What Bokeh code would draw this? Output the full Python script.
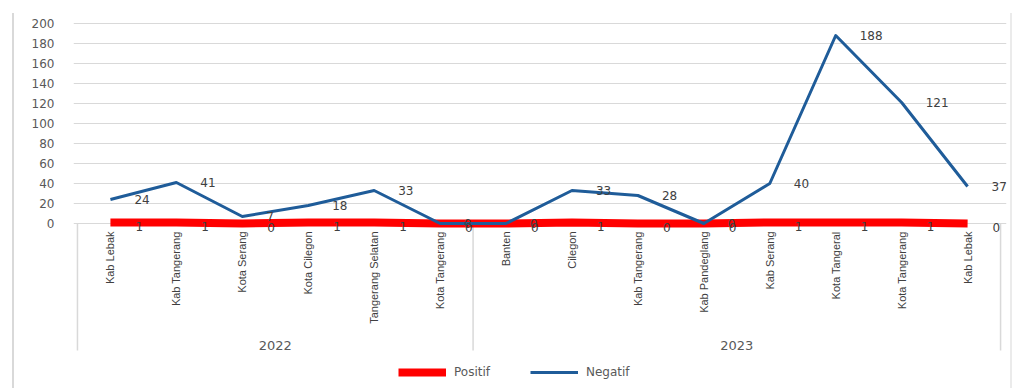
import math

from bokeh.core.properties import value
from bokeh.embed import file_html
from bokeh.models import ColumnDataSource, FixedTicker, Legend, LegendItem, Range1d
from bokeh.plotting import figure
from bokeh.resources import INLINE

# Districts tested per year (Banten province)
years = ["2022", "2023"]
districts_2022 = ["Kab Lebak", "Kab Tangerang", "Kota Serang", "Kota Cilegon",
                  "Tangerang Selatan", "Kota Tangerang"]
districts_2023 = ["Banten", "Cilegon", "Kab Tangerang", "Kab Pandeglang",
                  "Kab Serang", "Kota Tangeral", "Kota Tangerang", "Kab Lebak"]

# Test results per district
positif = [1, 1, 0, 1, 1, 0, 0, 1, 0, 0, 1, 1, 1, 0]
negatif = [24, 41, 7, 18, 33, 0, 0, 33, 28, 0, 40, 188, 121, 37]

y_ticks = [0, 20, 40, 60, 80, 100, 120, 140, 160, 180, 200]

groups = [districts_2022, districts_2023]
labels = districts_2022 + districts_2023
xs = list(range(len(labels)))

GRID = "#d9d9d9"
TEXT = "#595959"
LABEL = "#404040"
RED = "#ff0000"
BLUE = "#1f5c99"

p = figure(
    width=1000, height=375,
    output_backend="svg", toolbar_location=None,
    x_range=Range1d(-0.56, 13.59), y_range=Range1d(-165, 210),
    min_border_left=59, min_border_right=8, min_border_top=0, min_border_bottom=0,
)
p.margin = (13, 0, 0, 12)
p.styles = {"border-left": "2px solid #d9d9d9", "border-right": "2px solid #ebebeb"}
p.outline_line_color = None
p.background_fill_color = "white"
p.border_fill_color = "white"

# value axis
p.xaxis.visible = False
p.xgrid.visible = False
yax = p.yaxis[0]
yax.ticker = FixedTicker(ticks=y_ticks)
yax.axis_line_color = None
yax.major_tick_line_color = None
yax.minor_tick_line_color = None
yax.major_label_standoff = 13
yax.major_label_text_font = "DejaVu Sans"
yax.major_label_text_font_size = "12px"
yax.major_label_text_color = TEXT
p.ygrid.ticker = FixedTicker(ticks=y_ticks)
p.ygrid.grid_line_color = GRID
p.ygrid.grid_line_width = 1

# category boundaries: outer edges and the split between years
edges = [-0.5]
for g in groups:
    edges.append(edges[-1] + len(g))
p.segment(x0=edges, y0=[0] * len(edges), x1=edges, y1=[-127] * len(edges),
          line_color=GRID, line_width=1.5)

# series lines
r_pos = p.line(xs, positif, line_color=RED, line_width=8, line_cap="butt")
r_neg = p.line(xs, negatif, line_color=BLUE, line_width=3, line_join="round")

# data labels
src = ColumnDataSource(dict(
    x=xs, pos=positif, neg=negatif,
    pos_txt=[str(v) for v in positif], neg_txt=[str(v) for v in negatif],
))
p.text(x="x", y="neg", text="neg_txt", source=src,
       x_offset=24, text_align="left", text_baseline="middle",
       text_font=value("DejaVu Sans"), text_font_size="12px", text_color=LABEL)
p.text(x="x", y="pos", text="pos_txt", source=src,
       x_offset=25, y_offset=4, text_align="left", text_baseline="middle",
       text_font=value("DejaVu Sans"), text_font_size="12px", text_color=LABEL)

# district names, rotated under the axis
p.text(x=xs, y=[0] * len(xs), text=labels, angle=math.pi / 2,
       y_offset=8, text_align="right", text_baseline="middle",
       text_font=value("Liberation Sans"), text_font_size="11px", text_color=LABEL)

# year labels centred under their groups
centers = [(edges[i] + edges[i + 1]) / 2 for i in range(len(groups))]
p.text(x=centers, y=[0] * len(centers), text=years, y_offset=122,
       text_align="center", text_baseline="middle",
       text_font=value("DejaVu Sans"), text_font_size="13px", text_color=TEXT)

legend = Legend(
    items=[LegendItem(label="Positif", renderers=[r_pos]),
           LegendItem(label="Negatif", renderers=[r_neg])],
    orientation="horizontal", location=(325, 8),
    padding=0, margin=0, spacing=40,
    glyph_width=48, glyph_height=16, label_height=16, label_standoff=8,
    border_line_color=None, background_fill_alpha=0,
    label_text_font="DejaVu Sans", label_text_font_size="12px", label_text_color=TEXT,
)
p.add_layout(legend)

open("out.html", "w").write(file_html(p, INLINE))
